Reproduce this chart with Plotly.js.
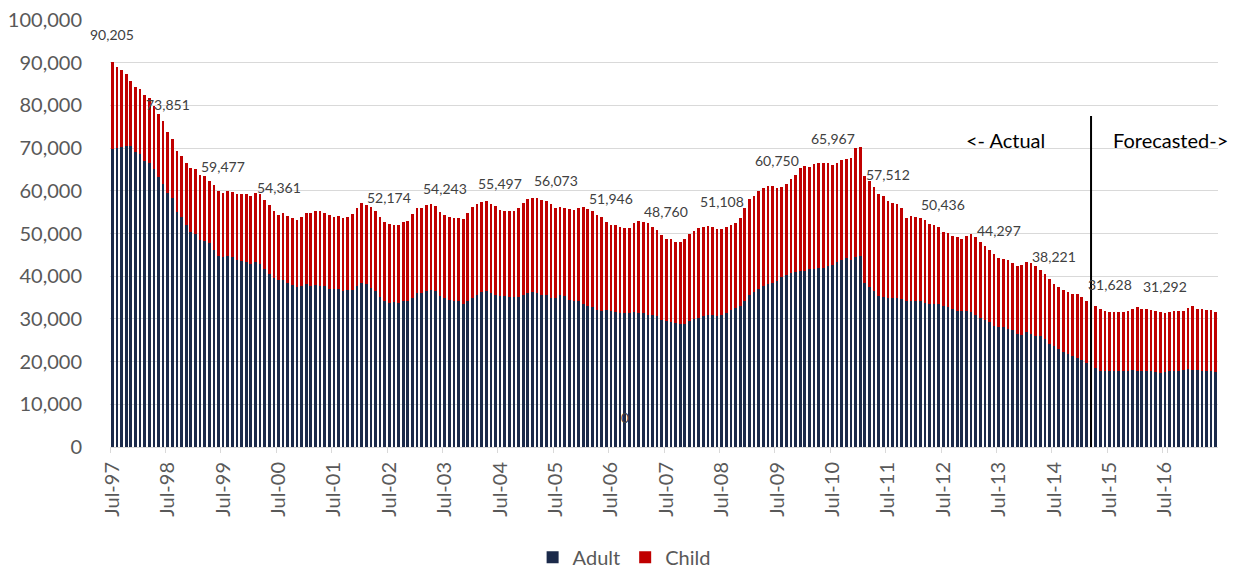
<!DOCTYPE html>
<html>
<head>
<meta charset="utf-8">
<script src="https://cdn.plot.ly/plotly-3.0.1.min.js"></script>
<style>
  html, body { margin: 0; padding: 0; background: #ffffff; }
  #chart { width: 1239px; height: 569px; }
</style>
</head>
<body>
<div id="chart"></div>
<script>
// ---- Data ----
const monthNames = ['Jul','Aug','Sep','Oct','Nov','Dec','Jan','Feb','Mar','Apr','May','Jun'];
// fiscal years: [year of Jul-Dec, year of Jan-Jun]
const fiscalYears = [['97','98'],['98','99'],['99','00'],['00','01'],['01','02'],['02','03'],['03','04'],['04','05'],['05','06'],['06','07'],
                     ['07','08'],['08','09'],['09','10'],['10','11'],['11','12'],['12','13'],['13','14'],['14','15'],['15','16'],['16','17']];

const adult = [
69900,70100,70200,70500,70400,69100,68700,67000,66400,65200,63300,61500,
59400,58200,55100,53900,52000,50400,50000,48400,48200,47700,46100,44800,
44400,44800,44400,43900,43600,43300,42900,43400,42800,41700,40600,39600,
39200,39200,38500,38000,37400,37600,38200,37800,38000,37800,37600,37100,
36900,37000,36600,36700,36800,37700,38400,38100,37300,36600,35200,34200,
33800,34000,33800,34200,34200,35000,36000,36100,36600,36800,36500,35400,
34900,34500,34100,34100,33600,34200,35000,35600,36200,36600,36000,35700,
35400,35400,35200,35200,35200,35600,36000,36200,36000,35600,35500,34800,
35000,35700,35400,34500,34200,34100,33600,33000,32700,32100,31900,32000,
31800,31600,31300,31400,31300,31600,31500,31300,30900,30800,30600,29800,
29500,29200,29000,28800,28800,29400,29900,30200,30600,30800,30800,30600,
31000,31500,32100,32500,33100,34100,35500,36300,37000,37700,38200,38400,
38800,39800,40200,40700,40900,41300,41200,41700,41700,41900,42000,42300,
42700,43300,43900,44200,43900,44500,44700,38400,37400,36500,35300,35100,
34800,34800,34800,34700,34300,34300,34300,34100,33800,33500,33500,33400,
33000,32700,32300,31800,31800,31900,31600,30800,30200,29800,29200,28400,
28200,28000,27700,27300,26500,26300,26900,26500,26100,25900,25300,24100,
23600,23000,22200,21800,21300,20900,20400,19700,18700,18500,17900,17700,
17700,17900,17900,17700,17900,18000,17900,17700,17700,17700,17500,17400,
17500,17700,17900,17900,18000,18200,18000,18000,17900,17700,17700,17500
];

const child = [
20305,18800,18100,16800,15300,15300,15200,15500,15300,14600,14800,14900,
14451,14000,14300,14300,14400,15000,15200,15200,15200,14600,15200,15100,
15077,15200,15400,15400,15600,16000,15900,16000,16400,16100,16000,15700,
15161,15500,15500,15600,15700,16200,16600,17000,17300,17400,17300,17300,
17000,17000,17000,17100,17700,18200,18700,18600,19000,18600,18600,18600,
18374,18000,18200,18400,18700,19600,19900,19800,20000,20100,20000,19700,
19343,19300,19500,19500,19900,20700,21100,21300,21200,20900,20900,20700,
20097,19900,20100,20100,20700,21500,22000,22100,22400,22300,22000,22200,
21073,20400,20500,21200,21300,21900,22700,22700,22600,22300,21900,20800,
20146,20400,20300,19900,20000,20900,21400,21300,21600,20800,20300,19900,
19260,19400,19100,19300,19800,20400,20800,21100,21000,20900,20700,20500,
20108,20100,19800,20000,20600,21800,22500,22600,22900,23000,22900,22700,
21950,21100,21400,22000,22900,24000,24600,23800,24500,24600,24500,24200,
23267,23300,23200,23300,23800,25500,25500,25000,24900,24500,24000,23600,
22712,22300,22000,21300,19300,19700,19500,19600,19400,18800,18600,18100,
17436,17500,17200,17300,17000,17500,18300,18300,17800,17200,17000,16800,
16097,16000,16000,15700,16000,16400,16400,16500,16200,15600,15200,15300,
14621,14400,14600,14500,14600,15000,14800,14600,15200,14500,14400,14100,
13928,13700,13800,14000,13900,14300,15000,14600,14600,14400,14300,14200,
13792,14000,13900,14000,13900,14400,15000,14400,14400,14400,14300,14100
];

// data labels shown on the chart (July of each year)
const labelMonths = ['Jul-97','Jul-98','Jul-99','Jul-00','Jul-02','Jul-03','Jul-04','Jul-05','Jul-06','Jul-07',
                     'Jul-08','Jul-09','Jul-10','Jul-11','Jul-12','Jul-13','Jul-14','Jul-15','Jul-16'];
const labelTexts  = ['90,205','73,851','59,477','54,361','52,174','54,243','55,497','56,073','51,946','48,760',
                     '51,108','60,750','65,967','57,512','50,436','44,297','38,221','31,628','31,292'];

const tickLabels = ['Jul-97','Jul-98','Jul-99','Jul-00','Jul-01','Jul-02','Jul-03','Jul-04','Jul-05','Jul-06',
                    'Jul-07','Jul-08','Jul-09','Jul-10','Jul-11','Jul-12','Jul-13','Jul-14','Jul-15','Jul-16'];

const forecastStart = 'Mar-15';
const zeroLabelMonth = 'Oct-06';

// ---- Build categories ----
const categories = [];
fiscalYears.forEach(function (fy) {
  monthNames.forEach(function (m, i) {
    categories.push(m + '-' + (i < 6 ? fy[0] : fy[1]));
  });
});

const FONT = 'Lato, "Open Sans", sans-serif';
const GREY = '#595959';

const traces = [
  { type: 'bar', name: 'Adult', x: categories, y: adult, marker: { color: '#1b2a4a' }, hoverinfo: 'skip' },
  { type: 'bar', name: 'Child', x: categories, y: child, marker: { color: '#c00000' }, hoverinfo: 'skip' }
];

const annotations = labelMonths.map(function (m, k) {
  const i = categories.indexOf(m);
  return {
    x: m, y: adult[i] + child[i], xref: 'x', yref: 'y', text: labelTexts[k],
    showarrow: false, yshift: 27, xanchor: 'center', font: { family: FONT, size: 14, color: '#404040' }
  };
});
annotations.push({ x: zeroLabelMonth, y: 6800, xref: 'x', yref: 'y', text: '0', showarrow: false,
  xanchor: 'center', font: { family: FONT, size: 14, color: '#404040' } });
annotations.push({ x: 0.808, y: 72000, xref: 'paper', yref: 'y', text: '<- Actual', showarrow: false,
  xanchor: 'center', font: { family: FONT, size: 20, color: '#000000' } });
annotations.push({ x: 0.957, y: 72000, xref: 'paper', yref: 'y', text: 'Forecasted->', showarrow: false,
  xanchor: 'center', font: { family: FONT, size: 20, color: '#000000' } });

const layout = {
  width: 1239, height: 569,
  margin: { l: 110, r: 21, t: 20, b: 122, autoexpand: false },
  paper_bgcolor: '#ffffff', plot_bgcolor: '#ffffff',
  barmode: 'stack', bargap: 0.42,
  font: { family: FONT, size: 20, color: GREY },
  showlegend: true,
  legend: {
    orientation: 'h', traceorder: 'normal',
    xref: 'paper', x: 0.464, xanchor: 'center',
    yref: 'paper', y: -0.258, yanchor: 'middle',
    font: { family: FONT, size: 20, color: GREY }
  },
  xaxis: {
    type: 'category', categoryorder: 'array', categoryarray: categories,
    range: [-0.5, categories.length - 0.5], autorange: false,
    tickmode: 'array', tickvals: tickLabels, ticktext: tickLabels,
    tickangle: -90, tickfont: { family: FONT, size: 20, color: GREY },
    ticks: 'outside', ticklen: 5, tickcolor: '#d9d9d9', tickson: 'boundaries',
    showline: true, linecolor: '#d9d9d9', linewidth: 1, ticklabelstandoff: 6,
    showgrid: false, zeroline: false, automargin: false
  },
  yaxis: {
    range: [0, 100000], autorange: false, dtick: 10000, tickformat: ',d',
    tickfont: { family: FONT, size: 20, color: GREY },
    showgrid: true, gridcolor: '#d9d9d9', gridwidth: 1,
    zeroline: false, showline: false, ticklabelstandoff: 27, automargin: false
  },
  shapes: [{
    type: 'line', xref: 'x', yref: 'y', x0: forecastStart, x1: forecastStart, y0: 0, y1: 77500,
    line: { color: '#000000', width: 2 }
  }],
  annotations: annotations
};

Plotly.newPlot('chart', traces, layout, { displayModeBar: false, staticPlot: true });
</script>
</body>
</html>
